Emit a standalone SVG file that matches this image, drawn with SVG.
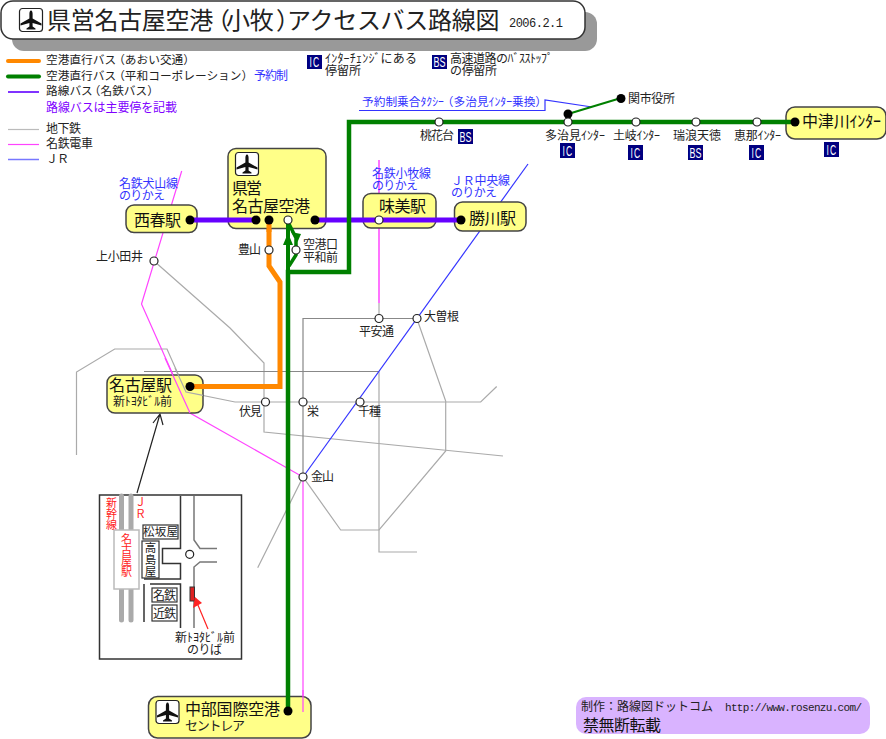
<svg xmlns="http://www.w3.org/2000/svg" xmlns:xlink="http://www.w3.org/1999/xlink" width="886" height="739" viewBox="0 0 886 739">
<style>
text{font-family:"Noto Sans CJK JP","Liberation Sans",sans-serif;fill:#222;font-size:12px}
.b{fill:#3333ff}.p{fill:#8000ff}
.r{fill:#ff2222;font-size:11px;writing-mode:vertical-rl}
.m{font-size:16px;fill:#111}.w{font-family:"Liberation Mono",monospace;font-size:11px}
.s{font-size:11.7px}
.box{fill:#ffff88;stroke:#444;stroke-width:1.5}
.o{fill:#fff;stroke:#222;stroke-width:1.2}
.g1{fill:none;stroke:#aaa;stroke-width:1.2}
.g2{fill:none;stroke:#888;stroke-width:1.2}
.mg{fill:none;stroke:#ff44ff;stroke-width:1.2}
.jr{fill:none;stroke:#3333ff;stroke-width:1.2}
.gr{fill:none;stroke:#008000;stroke-width:4.5}
.or{fill:none;stroke:#ff8800;stroke-width:5}
.pu{fill:none;stroke:#6600ff;stroke-width:5}
.bd{fill:#000080}.bt{fill:#fff;font-family:"Liberation Sans",sans-serif;font-size:14px;text-anchor:middle}
.ic{letter-spacing:2px}
.ink{fill:none;stroke:#333;stroke-width:1.5}
.ib{fill:#fff;stroke:#333;stroke-width:1.2}
</style>
<defs>
<g id="plane">
<rect x="0.5" y="0.5" width="23" height="23" rx="3" fill="#fff" stroke="#222" stroke-width="1.2"/>
<path d="M12 2.500C13.200 2.500 13.600 4.500 13.600 6V10.500L22.500 15.500V17.500L13.600 15V18.500L16.500 20.500V21.500H7.500V20.500L10.400 18.500V15L1.500 17.500V15.500L10.400 10.500V6C10.400 4.500 10.800 2.500 12 2.500Z" fill="#111"/>
</g>
</defs>

<g id="title">
<rect x="12" y="12" width="585" height="39" rx="12" fill="#999"/>
<rect x="1" y="1" width="584" height="38" rx="12" fill="#fff" stroke="#333" stroke-width="1.5"/>
<use xlink:href="#plane" href="#plane" x="19" y="8"/>
<text y="29" style="font-size:24px;letter-spacing:-.3px" fill="#111"><tspan x="47">県営名古屋空港</tspan><tspan x="206">（</tspan><tspan x="226">小牧</tspan><tspan x="276">）</tspan><tspan x="287">アクセスバス路線図</tspan></text>
<text x="509" y="27" class="w" style="font-size:12px" textLength="54">2006.2.1</text>
</g>

<g id="legend">
<path d="M8 61H39" stroke="#ff8800" stroke-width="4" stroke-linecap="round"/>
<path d="M8 76.500H39" stroke="#008000" stroke-width="4" stroke-linecap="round"/>
<path d="M8 92H39" stroke="#8033ff" stroke-width="2"/>
<path d="M8 129.500H39" stroke="#bbb" stroke-width="1.200"/>
<path d="M8 144.500H39" stroke="#ff44ff" stroke-width="1.200"/>
<path d="M8 159.500H39" stroke="#7777ff" stroke-width="1.500"/>
<text x="46" y="64" class="s">空港直行バス<tspan dx="-3">（</tspan>あおい交通）</text>
<text x="46" y="80" class="s">空港直行バス<tspan dx="-3">（</tspan>平和コーポレーション）</text>
<text x="254" y="80" class="b" textLength="34">予約制</text>
<text x="46" y="95" class="s">路線バス<tspan dx="-4">（</tspan>名鉄バス）</text>
<text x="46" y="112" class="p" textLength="131">路線バスは主要停を記載</text>
<text x="46" y="133" textLength="35">地下鉄</text>
<text x="46" y="148" textLength="47">名鉄電車</text>
<text x="46" y="163" textLength="23">ＪＲ</text>
<rect class="bd" x="307" y="55" width="15" height="14"/><text class="bt ic" x="315" y="67" textLength="11" lengthAdjust="spacingAndGlyphs">IC</text>
<text x="325" y="63" textLength="92">ｲﾝﾀｰﾁｪﾝｼﾞにある</text>
<text x="325" y="75" textLength="36">停留所</text>
<rect class="bd" x="432" y="55" width="15" height="14"/><text class="bt" x="439.500" y="67" textLength="12" lengthAdjust="spacingAndGlyphs">BS</text>
<text x="450" y="63" textLength="103">高速道路のﾊﾞｽｽﾄｯﾌﾟ</text>
<text x="450" y="75" textLength="47">の停留所</text>
</g>

<g id="connectors">
<path class="g1" d="M76.500 455V372L114.700 349H167L186 392L235 402H480.700L496.700 386.500"/>
<path class="g1" d="M154 261L230 328L264 363V432L503 456"/>
<path class="g2" d="M144 371.500H379"/>
<path class="g1" d="M379 371.500V552H417"/>
<path class="g1" d="M379 303V318"/>
<path class="g2" d="M303 477V318.500H417"/>
<path class="g1" d="M417 319L445.700 401V451L379 530H340.700L303 477L257.700 567.700"/>
<path class="mg" d="M181.700 171L141.500 304L190 413L303 477V712"/>
<path class="mg" d="M379 160V303" style="stroke-width:1.500"/>
<path class="jr" d="M528 164L303 477"/>
<path class="jr" d="M359 110.500H545V100L592 107"/>
<path d="M568 114L621 98" fill="none" stroke="#008000" stroke-width="2"/>
<path class="or" d="M190 386.500H280V282L269 266V220"/>
<path d="M137 493L160 414M153 423L160 414L163 425" fill="none" stroke="#222" stroke-width="1.200"/>
</g>

<g id="label-blue">
<text x="119" y="188" class="b" textLength="59">名鉄犬山線</text>
<text x="119" y="200" class="b" textLength="46">のりかえ</text>
<text x="372" y="178" class="b" textLength="59">名鉄小牧線</text>
<text x="372" y="190" class="b" textLength="46">のりかえ</text>
<text x="451" y="185" class="b" textLength="59">ＪＲ中央線</text>
<text x="451" y="197" class="b" textLength="46">のりかえ</text>
<text x="362" y="106" class="b s">予約制乗合ﾀｸｼｰ<tspan dx="-2">（</tspan>多治見ｲﾝﾀｰ乗換）</text>
</g>

<g id="node-nishiharu">
<rect class="box" x="126" y="205" width="71" height="27.500" rx="8"/>
<text x="134" y="226" class="m" textLength="47">西春駅</text>
</g>
<g id="node-nagoya-airport">
<rect class="box" x="228" y="148.500" width="98" height="80" rx="8"/>
<use xlink:href="#plane" href="#plane" x="235" y="152"/>
<text x="232" y="194" class="m" textLength="30">県営</text>
<text x="232" y="212" class="m" textLength="78">名古屋空港</text>
</g>
<g id="node-ajima">
<rect class="box" x="363" y="193.500" width="73" height="34.500" rx="8"/>
<text x="379" y="212" class="m" textLength="47">味美駅</text>
</g>
<g id="node-kachigawa">
<rect class="box" x="454.500" y="202" width="71.500" height="29" rx="8"/>
<text x="469" y="224" class="m" textLength="47">勝川駅</text>
</g>
<path id="purple-line" class="pu" d="M190 220H256M315 220H461"/>
<path id="orange-over-airport" class="or" d="M269 232V220"/>
<g id="node-nagoya">
<rect class="box" x="107" y="375" width="96" height="38" rx="8"/>
<text x="109" y="391" class="m" textLength="63">名古屋駅</text>
<text x="113" y="406" textLength="59">新ﾄﾖﾀﾋﾞﾙ前</text>
</g>
<g id="connectors-over-nagoya">
<path class="g1" d="M175 368L186 392L203 395.400"/>
<path class="mg" d="M165 358L190 413"/>
<path class="or" d="M190 386.500H210"/>
</g>
<g id="node-nakatsugawa">
<rect class="box" x="786" y="107" width="100" height="32" rx="9"/>
<text x="802" y="127" class="m" textLength="79">中津川ｲﾝﾀｰ</text>
</g>
<g id="node-chubu">
<rect class="box" x="148.500" y="696.500" width="162.500" height="41.500" rx="9"/>
<use xlink:href="#plane" href="#plane" x="155.500" y="700"/>
<text x="185" y="715" class="m" textLength="95">中部国際空港</text>
<text x="185" y="730" style="font-size:13px" textLength="60">セントレア</text>
</g>
<path id="magenta-over-chubu" d="M303 690V712" class="mg"/>

<g id="green-routes">
<path class="gr" d="M288 711V272H349V122H795"/>
<path d="M288 222V272" fill="none" stroke="#008000" stroke-width="4"/>
<path d="M288 222L296 238V255L289 266" fill="none" stroke="#008000" stroke-width="3.500"/>
<path d="M288 233L283 245H293Z" fill="#008000"/>
<path d="M297.500 242L291 232L301 234Z" fill="#008000"/>
</g>

<g id="stations">
<g fill="#000">
<circle cx="190" cy="220" r="4.500"/><circle cx="256" cy="220" r="4.500"/><circle cx="269" cy="220" r="4.500"/><circle cx="315" cy="220" r="4.500"/><circle cx="461" cy="220" r="4.500"/><circle cx="190" cy="386.500" r="4.500"/><circle cx="795" cy="122" r="4.500"/><circle cx="288" cy="711" r="4.500"/><circle cx="568" cy="114" r="4.500"/><circle cx="621" cy="98.500" r="4.500"/>
</g>
<g class="o">
<circle cx="288" cy="220" r="4"/><circle cx="379" cy="220" r="4"/><circle cx="269" cy="250" r="4"/><circle cx="296" cy="250" r="4"/><circle cx="154" cy="261" r="4"/><circle cx="379" cy="318.500" r="4"/><circle cx="417" cy="318.500" r="4"/><circle cx="265.500" cy="402" r="4"/><circle cx="303" cy="402" r="4"/><circle cx="360" cy="402" r="4"/><circle cx="303" cy="477" r="4"/><circle cx="439" cy="122" r="4"/><circle cx="568" cy="122" r="4"/><circle cx="636" cy="122" r="4"/><circle cx="696" cy="122" r="4"/><circle cx="757" cy="122" r="4"/>
</g>
<text x="628" y="103" textLength="47">関市役所</text>
<text x="420" y="140" textLength="34">桃花台</text>
<rect class="bd" x="458" y="129" width="15" height="15"/><text class="bt" x="465.500" y="141.500" textLength="12" lengthAdjust="spacingAndGlyphs">BS</text>
<text x="545" y="140" textLength="60">多治見ｲﾝﾀｰ</text>
<rect class="bd" x="560" y="143" width="15" height="15"/><text class="bt ic" x="568" y="155.500" textLength="11" lengthAdjust="spacingAndGlyphs">IC</text>
<text x="613" y="140" textLength="47">土岐ｲﾝﾀｰ</text>
<rect class="bd" x="628" y="145" width="15" height="15"/><text class="bt ic" x="636" y="157.500" textLength="11" lengthAdjust="spacingAndGlyphs">IC</text>
<text x="673" y="140" textLength="48">瑞浪天徳</text>
<rect class="bd" x="688" y="145" width="15" height="15"/><text class="bt" x="695.500" y="157.500" textLength="12" lengthAdjust="spacingAndGlyphs">BS</text>
<text x="734" y="140" textLength="47">恵那ｲﾝﾀｰ</text>
<rect class="bd" x="749" y="145" width="15" height="15"/><text class="bt ic" x="757" y="157.500" textLength="11" lengthAdjust="spacingAndGlyphs">IC</text>
<rect class="bd" x="824" y="142" width="15" height="15"/><text class="bt ic" x="832" y="154.500" textLength="11" lengthAdjust="spacingAndGlyphs">IC</text>
<text x="238" y="254" textLength="23">豊山</text>
<text x="303" y="249" textLength="35">空港口</text>
<text x="303" y="262" textLength="35">平和前</text>
<text x="96" y="261" textLength="47">上小田井</text>
<text x="359" y="336" textLength="35">平安通</text>
<text x="424" y="321" textLength="35">大曽根</text>
<text x="239" y="416" textLength="23">伏見</text>
<text x="307" y="416" textLength="11">栄</text>
<text x="358" y="416" textLength="23">千種</text>
<text x="311" y="481" textLength="23">金山</text>
</g>

<g id="inset">
<rect x="99.500" y="495" width="142" height="164" fill="#fff" stroke="#333" stroke-width="1.500"/>
<path d="M121.500 496V620M131 496V620" fill="none" stroke="#aaa" stroke-width="5" stroke-linecap="round"/>
<rect x="114" y="530" width="25" height="59" fill="#fff" stroke="#bbb" stroke-width="1.500"/>
<text class="r" x="111.500" y="497">新幹線</text>
<text class="r" x="140.500" y="497">ＪＲ</text>
<text class="r" x="126.500" y="533">名古屋駅</text>
<path class="ink" d="M180.500 496V548.500H162.500V563.500H180.500V579H144M144 584V622M150 584H180.500V628"/>
<path d="M194 496V540L200 548.500H217M217 562H200L194 567V628" fill="none" stroke="#777" stroke-width="1.500"/>
<circle cx="189.700" cy="554.300" r="4" class="o"/>
<rect class="ib" x="143" y="525" width="35" height="14"/>
<text x="143" y="536" style="font-size:11.500px" textLength="35">松坂屋</text>
<rect class="ib" x="142" y="541" width="17" height="37"/>
<text x="150.500" y="542" style="font-size:11.500px;writing-mode:vertical-rl;letter-spacing:.5px">高島屋</text>
<rect class="ib" x="152" y="588" width="25" height="14"/>
<text x="153" y="600" textLength="23">名鉄</text>
<rect class="ib" x="152" y="605" width="25" height="16"/>
<text x="153" y="618" textLength="23">近鉄</text>
<rect x="190" y="587" width="4.500" height="14" fill="#dd2222" stroke="#333"/>
<path d="M208 629L195 598" fill="none" stroke="#ff2222" stroke-width="1.200"/>
<path d="M195 597L193 608L202 603Z" fill="#ff2222"/>
<text x="175" y="642" textLength="60">新ﾄﾖﾀﾋﾞﾙ前</text>
<text x="187" y="654" textLength="35">のりば</text>
</g>

<g id="footer">
<rect x="576" y="697" width="294" height="37" rx="10" fill="#d9b3ff"/>
<text x="581" y="711" textLength="132">制作：路線図ドットコム</text>
<text x="725" y="711" class="w" textLength="137">http://www.rosenzu.com/</text>
<text x="583" y="731" class="m" textLength="78">禁無断転載</text>
</g>
</svg>
